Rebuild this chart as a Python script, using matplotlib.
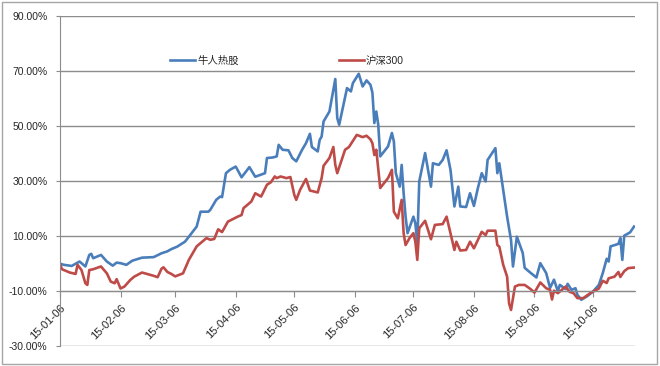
import matplotlib
matplotlib.use("Agg")
import matplotlib.pyplot as plt
import matplotlib.dates as mdates
import pandas as pd
from matplotlib.patches import Rectangle

plt.rcParams["font.family"] = ["Liberation Sans", "Noto Sans CJK SC", "DejaVu Sans"]

# 牛人热股 cumulative return (%)
hot_dates = [
    "01-06", "01-08", "01-12", "01-16", "01-18", "01-19", "01-21", "01-22", "01-23", "01-27",
    "01-30", "02-02", "02-04", "02-06", "02-09", "02-12", "02-17", "02-23", "02-27", "03-02",
    "03-04", "03-07", "03-11", "03-13", "03-17", "03-19", "03-23", "03-24", "03-27", "03-29",
    "03-30", "04-01", "04-03", "04-06", "04-09", "04-13", "04-16", "04-21", "04-22", "04-25",
    "04-27", "04-28", "04-30", "05-03", "05-05", "05-07", "05-10", "05-12", "05-14", "05-15",
    "05-18", "05-19", "05-20", "05-21", "05-24", "05-27", "05-28", "05-29", "06-02", "06-04",
    "06-05", "06-08", "06-10", "06-12", "06-14", "06-15", "06-16", "06-17", "06-18", "06-19",
    "06-23", "06-25", "06-26", "06-27", "06-29", "06-30", "07-01", "07-02", "07-03", "07-06",
    "07-07", "07-08", "07-09", "07-12", "07-15", "07-16", "07-19", "07-21", "07-23", "07-25",
    "07-27", "07-29", "07-30", "08-02", "08-04", "08-06", "08-08", "08-10", "08-12", "08-13",
    "08-17", "08-18", "08-19", "08-20", "08-23", "08-25", "08-26", "08-28", "08-31", "09-01",
    "09-04", "09-07", "09-09", "09-12", "09-14", "09-16", "09-18", "09-19", "09-22", "09-23",
    "09-25", "09-27", "09-28", "09-30", "10-03", "10-06", "10-09", "10-11", "10-13", "10-14",
    "10-15", "10-19", "10-20", "10-21", "10-22", "10-25", "10-27",
]
hot_values = [
    0.0, -0.4, -0.8, 0.8, -0.4, -1.0, 3.2, 3.6, 2.0, 3.2,
    0.8, -0.7, 0.4, 0.2, -0.4, 1.1, 2.2, 2.4, 3.8, 4.5,
    5.3, 6.2, 8.0, 9.8, 13.5, 18.9, 18.9, 19.6, 23.2, 24.4,
    24.2, 32.9, 34.1, 35.3, 31.4, 35.1, 31.6, 32.9, 38.4, 38.6,
    39.0, 43.2, 41.4, 41.2, 38.4, 37.2, 41.4, 43.8, 47.2, 42.4,
    40.8, 45.0, 46.2, 51.7, 55.3, 67.1, 52.9, 50.5, 63.8, 62.6,
    65.6, 69.0, 64.4, 66.6, 65.0, 62.2, 51.1, 55.3, 50.5, 39.0,
    42.6, 47.5, 44.4, 32.9, 28.0, 35.9, 25.6, 17.1, 11.1, 17.1,
    14.7, 7.6, 29.9, 40.2, 28.0, 36.5, 35.9, 37.7, 41.2, 34.1,
    20.8, 28.0, 20.8, 20.6, 25.6, 21.0, 27.4, 32.9, 29.9, 37.7,
    42.0, 32.9, 36.5, 31.6, 17.1, 8.6, -1.0, 9.8, 3.9, -1.5,
    -3.3, -5.0, 0.2, -3.4, -8.8, -5.8, -10.0, -7.7, -9.2, -7.3,
    -9.5, -8.9, -11.3, -13.1, -11.8, -10.1, -7.7, -3.4, 1.8, 0.8,
    6.3, 7.2, 9.3, 1.4, 10.2, 11.4, 13.5,
]

# 沪深300 cumulative return (%)
csi_dates = [
    "01-06", "01-07", "01-11", "01-14", "01-15", "01-17", "01-19", "01-20", "01-21", "01-23",
    "01-27", "01-30", "02-01", "02-03", "02-04", "02-06", "02-08", "02-11", "02-13", "02-17",
    "02-23", "02-25", "02-27", "02-28", "03-02", "03-04", "03-06", "03-10", "03-13", "03-17",
    "03-22", "03-24", "03-26", "03-28", "03-30", "04-02", "04-07", "04-09", "04-10", "04-14",
    "04-16", "04-19", "04-22", "04-24", "04-26", "04-27", "04-29", "05-02", "05-04", "05-06",
    "05-07", "05-09", "05-12", "05-14", "05-18", "05-20", "05-21", "05-24", "05-26", "05-27",
    "05-28", "06-01", "06-03", "06-07", "06-10", "06-12", "06-14", "06-15", "06-16", "06-17",
    "06-19", "06-23", "06-25", "06-26", "06-28", "06-30", "07-01", "07-02", "07-04", "07-06",
    "07-07", "07-08", "07-09", "07-12", "07-15", "07-17", "07-21", "07-23", "07-25", "07-27",
    "07-28", "07-30", "08-02", "08-04", "08-06", "08-08", "08-10", "08-12", "08-13", "08-17",
    "08-18", "08-19", "08-21", "08-23", "08-24", "08-25", "08-27", "08-29", "09-01", "09-04",
    "09-06", "09-09", "09-12", "09-14", "09-15", "09-16", "09-18", "09-20", "09-22", "09-24",
    "09-26", "09-28", "10-01", "10-05", "10-09", "10-11", "10-13", "10-14", "10-17", "10-19",
    "10-20", "10-22", "10-24", "10-27",
]
csi_values = [
    0.0, -2.0, -3.2, -3.7, -0.4, -2.3, -7.1, -7.7, -2.3, -2.0,
    -1.0, -3.5, -6.5, -7.1, -5.6, -9.0, -8.3, -5.9, -4.7, -3.2,
    -4.4, -4.9, -1.8, -1.3, -3.0, -3.7, -4.6, -3.5, 1.4, 6.3,
    9.3, 8.7, 9.0, 12.5, 11.5, 15.3, 17.1, 17.7, 20.2, 22.6,
    25.6, 24.4, 28.7, 29.6, 31.7, 31.1, 31.7, 31.1, 31.5, 25.0,
    23.2, 26.9, 30.8, 26.6, 25.9, 31.1, 35.6, 38.4, 42.4, 35.9,
    32.9, 41.4, 42.4, 46.8, 46.0, 46.5, 45.2, 43.8, 39.5, 41.4,
    27.5, 31.1, 34.1, 18.9, 16.5, 23.2, 11.1, 6.8, 9.3, 11.1,
    8.0, 1.4, 12.9, 15.6, 8.9, 14.1, 14.4, 17.1, 11.1, 5.0,
    8.0, 4.8, 5.0, 8.0, 5.6, 8.6, 11.6, 10.4, 12.0, 12.0,
    6.8, 6.2, -0.4, -4.7, -14.4, -16.8, -8.3, -7.7, -7.7, -9.2,
    -10.5, -6.8, -8.9, -9.5, -13.0, -9.8, -10.7, -9.5, -8.3, -10.2,
    -10.7, -12.5, -12.5, -10.5, -9.0, -6.2, -7.0, -5.3, -4.7, -3.0,
    -4.8, -2.7, -1.6, -1.4,
]

series_labels = ["牛人热股", "沪深300"]
y_ticks = [-30, -10, 10, 30, 50, 70, 90]

BLUE = "#4A7EBB"
RED = "#BE4B48"
GRID = "#8C8C8C"
TEXT = "#262626"


def to_dates(days):
    return pd.to_datetime(["2015-" + d for d in days])


def main() -> None:
    fig = plt.figure(figsize=(6.6, 3.66), dpi=100)
    ax = fig.add_axes([60 / 660, 1 - 346.3 / 366, 575 / 660, 330.3 / 366])

    ax.plot(to_dates(hot_dates), hot_values, color=BLUE, lw=1.9, label=series_labels[0],
            solid_joinstyle="round")
    ax.plot(to_dates(csi_dates), csi_values, color=RED, lw=1.9, label=series_labels[1],
            solid_joinstyle="round")

    ax.set_ylim(-30, 90)
    ax.set_yticks(y_ticks, labels=[f"{v:.2f}%" for v in y_ticks])
    ax.set_xlim(pd.Timestamp("2015-01-06"), pd.Timestamp("2015-10-27 12:00"))
    months = pd.date_range("2015-01-06", periods=10, freq=pd.DateOffset(months=1))
    ax.set_xticks(months)
    ax.xaxis.set_major_formatter(mdates.DateFormatter("%y-%m-%d"))

    ax.grid(axis="y", color=GRID, lw=1.0)
    ax.set_axisbelow(True)
    for side in ("top", "right"):
        ax.spines[side].set_visible(False)
    ax.spines["left"].set_color(GRID)
    ax.spines["bottom"].set_color(GRID)
    ax.spines["bottom"].set_position(("data", -10))

    ax.tick_params(axis="y", length=3, color=GRID, pad=6, labelsize=7.5, labelcolor=TEXT)
    ax.tick_params(axis="x", length=4, color=GRID, pad=4, labelsize=8, labelcolor=TEXT)
    for lab in ax.get_xticklabels():
        lab.set_rotation(45)
        lab.set_ha("right")
        lab.set_va("top")
        lab.set_rotation_mode("anchor")

    leg = fig.legend(loc="center", bbox_to_anchor=(287 / 660, 1 - 61 / 366), ncol=2,
                     frameon=False, fontsize=7.5, handlelength=2.4, handletextpad=0.2,
                     columnspacing=9.6)
    for t in leg.get_texts():
        t.set_color(TEXT)

    fig.patches.append(Rectangle((2 / 660, 2 / 366), 655 / 660, 362 / 366,
                                 transform=fig.transFigure, fill=False,
                                 edgecolor="#A6A6A6", lw=1.0))

    fig.savefig("out.png", dpi=100)
    plt.close(fig)


if __name__ == "__main__":
    main()
